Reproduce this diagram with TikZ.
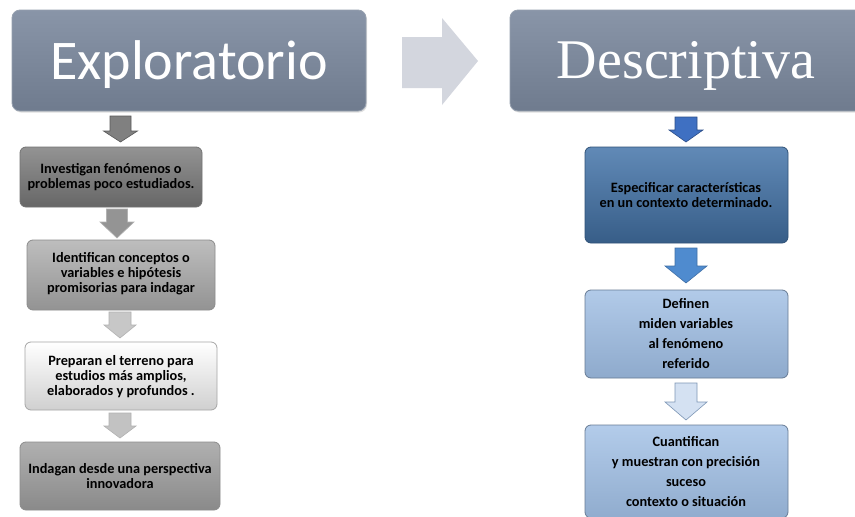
\documentclass[tikz,border=0pt]{standalone}
\usepackage{fontspec}
\setmainfont{Carlito}
\newfontfamily\serifhead{Liberation Serif}
\usetikzlibrary{shadows}
\definecolor{headc}{HTML}{7C889B}
\definecolor{headtop}{HTML}{8995A8}
\definecolor{headbot}{HTML}{6F7B8E}
\definecolor{bigarr}{HTML}{D3D6DE}
\definecolor{gA}{HTML}{808080}
\definecolor{gB}{HTML}{ADADAD}
\definecolor{gC}{HTML}{E7E7E7}
\definecolor{gD}{HTML}{A2A2A2}
\definecolor{bA}{HTML}{4575AA}
\definecolor{bB}{HTML}{9EBDE3}
\definecolor{bC}{HTML}{A0BFE5}
\definecolor{baA}{HTML}{3F70C2}
\definecolor{baB}{HTML}{4F8BCF}
\definecolor{baC}{HTML}{D4E1F2}
\tikzset{
  headbox/.style={rounded corners=8pt, draw=headc!80!white, line width=0.8pt,
    top color=headtop, bottom color=headbot, inner sep=0pt},
  stepbox/.style={rounded corners=6pt, line width=0.8pt, inner sep=0pt,
    align=center, font=\bfseries\fontsize{14.3}{15}\selectfont},
  blockarr/.style={line width=0.6pt, line join=miter}
}
% \barrow{cx}{ytop}{yheadbase}{ytip}{bodyhalf}{headhalf}{fill}{draw}
\newcommand{\barrow}[8]{%
  \draw[blockarr, fill=#7, draw=#8]
    (#1-#5,#2) -- (#1+#5,#2) -- (#1+#5,#3) -- (#1+#6,#3) -- (#1,#4)
    -- (#1-#6,#3) -- (#1-#5,#3) -- cycle;}
\begin{document}
\begin{tikzpicture}[x=1pt,y=-1pt]
\useasboundingbox (0,0) rectangle (855,517);
\fill[white] (0,0) rectangle (855,517);
% headers
\draw[headbox, drop shadow={shadow xshift=1pt, shadow yshift=-1.5pt, opacity=0.25}] (12,10) rectangle (366,111);
\node[text=white, font=\fontsize{56}{58}\selectfont, anchor=base] (hexp) at (189,79) {Exploratorio};
\draw[headbox, drop shadow={shadow xshift=1pt, shadow yshift=-1.5pt, opacity=0.25}] (510,10) rectangle (880,111);
\node[text=white, font=\serifhead\fontsize{56}{58}\selectfont, anchor=base] (hdes) at (686,78) {Descriptiva};
% big arrow
\fill[bigarr] (402,37) -- (442,37) -- (442,18) -- (478,61) -- (442,105) -- (442,88) -- (402,88) -- cycle;
% left column
\barrow{120.5}{116}{131}{142}{10.5}{17}{gA}{black!65}
\draw[stepbox, top color=gA!85!white, bottom color=gA!80!black, draw=black!55] (20,147) rectangle (202,207);
\node[stepbox] (l1) at (111,177) {Investigan fenómenos o\\problemas poco estudiados.};
\barrow{117}{209}{222}{238}{10.5}{17}{black!42}{black!30}
\draw[stepbox, top color=gB!80!white, bottom color=gB!85!black, draw=black!45] (27,240) rectangle (215,310);
\node[stepbox] (l2) at (121,274) {Identifican conceptos o\\variables e hipótesis\\promisorias para indagar};
\barrow{120}{312}{325}{338}{11}{16}{black!22}{black!30}
\draw[stepbox, top color=white, bottom color=gC!90!black, draw=black!35] (25,342) rectangle (217,410);
\node[stepbox] (l3) at (121,377) {Preparan el terreno para\\estudios más amplios,\\elaborados y profundos .};
\barrow{120}{413}{426}{438}{11}{16}{black!24}{black!30}
\draw[stepbox, top color=gD!85!white, bottom color=gD!85!black, draw=black!45] (20,442) rectangle (220,510);
\node[stepbox] (l4) at (120,476) {Indagan desde una perspectiva\\innovadora};
% right column
\barrow{686}{117}{130}{142}{11}{17}{baA}{baA!70!black}
\draw[stepbox, top color=bA!85!white, bottom color=bA!80!black, draw=bA!70!black] (585,147) rectangle (788,243);
\node[stepbox, font=\bfseries\fontsize{14.3}{15.7}\selectfont] (r1) at (686,195) {Especificar características\\en un contexto determinado.};
\barrow{686}{248}{266}{283}{11}{21}{baB}{baB!80!black}
\draw[stepbox, top color=bB!80!white, bottom color=bB!90!black, draw=bB!65!black] (585,290) rectangle (788,378);
\node[stepbox, font=\bfseries\fontsize{14.3}{20}\selectfont] (r2) at (686,334) {Definen\\miden variables\\al fenómeno\\referido};
\barrow{686}{383}{402}{420}{11}{21}{baC}{bB!80!black}
\draw[stepbox, top color=bC!80!white, bottom color=bC!90!black, draw=bC!65!black] (585,425) rectangle (788,518);
\node[stepbox, font=\bfseries\fontsize{14.3}{20}\selectfont] (r3) at (686,472) {Cuantifican\\y muestran con precisión\\suceso\\contexto o situación};
\end{tikzpicture}
\end{document}
